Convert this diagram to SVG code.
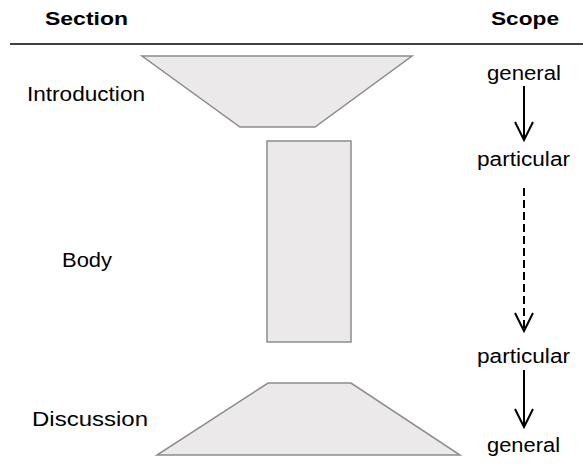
<svg xmlns="http://www.w3.org/2000/svg" width="583" height="467" viewBox="0 0 583 467">
<style>
text{font-family:"Liberation Sans",Arial,sans-serif;font-size:20px;fill:#000}
.h{font-weight:bold;font-size:19px}
.shape{fill:#ebe9ea;stroke:#8c8c8c;stroke-width:1.5}
.ar{stroke:#000;stroke-width:2;fill:none;marker-end:url(#v)}
.dash{stroke-dasharray:8 4}
</style>
<defs>
<marker id="v" viewBox="0 0 20 20" refX="18" refY="9" markerWidth="20" markerHeight="20" markerUnits="userSpaceOnUse" orient="auto" overflow="visible">
<path d="M0,0 L18,9 L0,18" fill="none" stroke="#000" stroke-width="2"/>
</marker>
</defs>
<rect width="583" height="467" fill="#fff"/>
<g id="header">
<text class="h" x="45" y="25" textLength="83" lengthAdjust="spacingAndGlyphs">Section</text>
<text class="h" x="491" y="24.5" textLength="68" lengthAdjust="spacingAndGlyphs">Scope</text>
<line x1="10" y1="44" x2="583" y2="44" stroke="#000" stroke-width="1.5"/>
</g>
<g id="intro">
<polygon class="shape" points="142,56 412,56 315,127 240,127"/>
<text x="27" y="101" textLength="118" lengthAdjust="spacingAndGlyphs">Introduction</text>
</g>
<g id="body">
<rect class="shape" x="267" y="141" width="84" height="201"/>
<text x="62" y="267" textLength="50" lengthAdjust="spacingAndGlyphs">Body</text>
</g>
<g id="discussion">
<polygon class="shape" points="268,383 351,383 460,455 157,455"/>
<text x="32" y="426" textLength="116" lengthAdjust="spacingAndGlyphs">Discussion</text>
</g>
<g id="scope1"><text x="487" y="80" textLength="74" lengthAdjust="spacingAndGlyphs">general</text></g>
<g id="scope2"><text x="477" y="166" textLength="93" lengthAdjust="spacingAndGlyphs">particular</text></g>
<g id="scope3"><text x="477" y="363" textLength="93" lengthAdjust="spacingAndGlyphs">particular</text></g>
<g id="scope4"><text x="487" y="452" textLength="73" lengthAdjust="spacingAndGlyphs">general</text></g>
<g id="connectors">
<line class="ar" x1="524" y1="86" x2="524" y2="140"/>
<line class="ar dash" x1="524" y1="188" x2="524" y2="331"/>
<line class="ar" x1="524" y1="370" x2="524" y2="427"/>
</g>
</svg>
